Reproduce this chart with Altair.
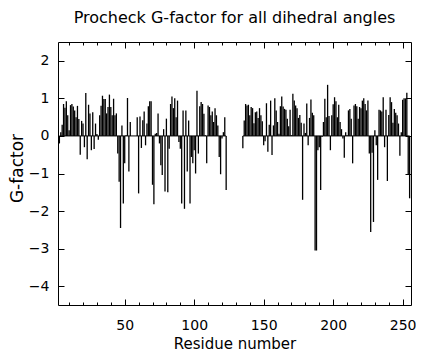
import altair as alt
import pandas as pd

TITLE = "Procheck G-factor for all dihedral angles"
X_TITLE = "Residue number"
Y_TITLE = "G-factor"

# residues before the chain break
residues_a = list(range(3, 124))
gfactor_a = [
    -0.2, 0.1, 0.3, 0.85, 0.75, 0.92, 0.55, 0.15, 0.82, 0.85,
    0.78, 0.68, 0.5, 0.8, 0.45, -0.5, 0.4, 0.33, -0.3, 1.14,
    -0.62, 0.83, 0.6, -0.38, 0.63, -0.35, 0.33, 0.05, -0.1, 0.55,
    0.8, 1.07, 0.98, 0.98, 0.6, 0.77, 1.1, 0.77, 0.55, 0.99,
    0.55, 0.6, -0.47, -1.22, -2.45, 0.28, -1.8, -0.73, 0.02, 1.01,
    -0.95, 0.37, 0.0, 0.0, 0.0, 0.0, 0.5, -1.53, 0.52, -0.32,
    0.42, 0.65, -0.25, 0.33, 0.79, 0.92, 0.92, -1.3, -1.82, 0.06,
    0.08, 0.6, -0.2, -0.78, -1.04, 0.18, -1.48, 0.46, -1.5, -0.34,
    0.85, 1.05, 0.74, 1.0, 0.5, 0.94, -0.16, -0.34, -1.8, 0.68,
    -1.94, 0.68, -0.95, 0.41, -1.8, -0.56, -0.73, -0.38, -1.0, 1.2,
    -0.47, 0.79, 0.9, 0.85, 0.59, 0.02, -0.73, 0.81, 0.77, 0.55,
    0.65, 0.37, 0.74, 0.55, 0.28, -0.56, -1.02, -0.07, 0.1, 0.5,
    -1.44,
]

# residues after the chain break
residues_b = list(range(135, 256))
gfactor_b = [
    -0.33, 0.41, 0.85, 0.81, 0.83, 0.55, 0.77, 0.74, 0.34, 0.63,
    0.65, 0.48, 0.74, 0.55, 0.39, -0.25, -0.14, 0.87, -0.42, 0.3,
    0.94, -0.51, 0.28, 1.0, 0.68, 0.37, 0.06, 0.79, 1.05, 0.78,
    0.72, 0.7, 0.46, 0.26, 0.7, 0.02, 1.12, 0.94, 0.81, 0.74,
    0.48, 0.56, 0.35, -1.7, 0.33, 0.08, 0.86, -0.25, 0.48, 0.97,
    0.62, 0.55, -3.05, -3.05, -0.38, -0.3, -1.44, -0.03, 0.37, 0.99,
    0.5, 1.36, 0.53, -0.38, 0.55, 0.84, 1.03, 0.92, 0.5, 0.83,
    0.37, 0.18, -0.07, -0.58, 0.1, 0.02, 0.68, 0.72, 0.46, -0.73,
    0.81, 0.85, 0.79, 0.46, 0.77, 0.74, 0.94, 1.0, 0.85, 0.68,
    0.94, -0.47, -2.56, -0.45, -2.29, 0.15, -0.25, -1.17, 0.7, 0.68,
    0.65, 1.03, -0.3, 0.7, -1.2, 0.56, 1.03, 0.9, 0.35, 0.72,
    0.62, 0.55, 0.33, -0.53, 0.1, 0.96, 1.0, 0.99, 1.15, -1.04,
    -1.66,
]

x_domain = [2, 256]
y_domain = [-4.5, 2.5]
x_label_values = [50, 100, 150, 200, 250]
x_tick_values = list(range(10, 251, 10))
y_tick_values = [-4, -3, -2, -1, 0, 1, 2]

W, H = 353, 263
FONT = "DejaVu Sans"

df = pd.DataFrame({"residue": residues_a + residues_b, "g": gfactor_a + gfactor_b})
df["base"] = 0.0
runs = pd.DataFrame({
    "start": [residues_a[0], residues_b[0]],
    "end": [residues_a[-1], residues_b[-1]],
    "base": [0.0, 0.0],
})

xs = alt.Scale(domain=x_domain, nice=False, zero=False)
ys = alt.Scale(domain=y_domain, nice=False, zero=False)

x_tick_size = {"condition": {"test": "datum.value % 50 === 0", "value": 6}, "value": 3}


def tick_axis(orient, offset, values, size):
    return alt.Axis(orient=orient, offset=offset, values=values, tickSize=size,
                    tickColor="black", tickWidth=1, labels=False, domain=False,
                    grid=False, title="")


bars = alt.Chart(df).mark_rule(color="black", strokeWidth=1.3).encode(
    x=alt.X("residue:Q", scale=xs, axis=alt.Axis(
        orient="bottom", values=x_label_values, ticks=False, tickSize=0,
        domain=False, grid=False, labelPadding=13, labelOffset=0,
        labelFont=FONT, labelFontSize=14, labelColor="black",
        title=X_TITLE, titleFont=FONT, titleFontSize=15, titleFontWeight="normal",
        titleColor="black", titleX=W / 2, titleY=31)),
    y=alt.Y("base:Q", scale=ys, axis=alt.Axis(
        orient="left", values=y_tick_values, ticks=False, tickSize=0,
        domain=False, grid=False, labelPadding=9,
        labelFont=FONT, labelFontSize=14, labelColor="black",
        title=Y_TITLE, titleFont=FONT, titleFontSize=17, titleFontWeight="normal",
        titleColor="black", titleX=-32, titleY=126)),
    y2="g:Q",
)

zero_line = alt.Chart(runs).mark_rule(color="black", strokeWidth=1).encode(
    x=alt.X("start:Q", scale=xs, axis=tick_axis("top", -H, x_tick_values, x_tick_size)),
    x2="end:Q",
    y=alt.Y("base:Q", scale=ys, axis=tick_axis("right", -W, y_tick_values, 6)),
)

ghost = alt.Chart(runs).mark_rule(color="black", opacity=0).encode(
    x=alt.X("start:Q", scale=xs, axis=tick_axis("bottom", -H, x_tick_values, x_tick_size)),
    x2="end:Q",
    y=alt.Y("base:Q", scale=ys, axis=tick_axis("left", -W, y_tick_values, 6)),
)

chart = alt.layer(bars, zero_line, ghost).resolve_axis(
    x="independent", y="independent"
).properties(
    width=W,
    height=H,
    title=alt.Title(TITLE, font=FONT, fontSize=16, fontWeight="normal",
                    color="black", anchor="middle", baseline="alphabetic", offset=3),
    autosize=alt.AutoSizeParams(type="none"),
    padding={"left": 50, "top": 34, "right": 5, "bottom": 47},
    background="white",
).configure_view(stroke="black", strokeWidth=1)

chart.save("out.html", embed_options={"renderer": "svg", "actions": False})
